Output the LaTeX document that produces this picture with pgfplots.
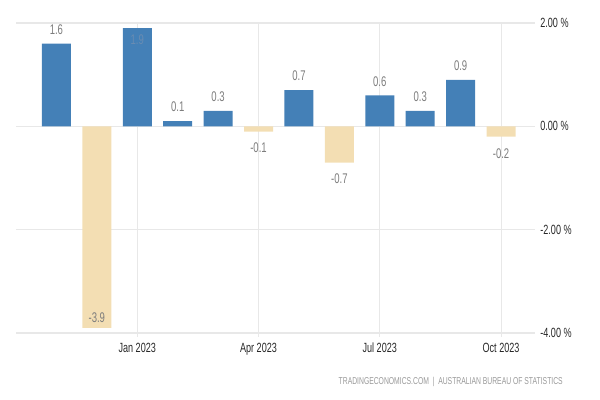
\documentclass[border=0pt]{standalone}
\usepackage{fontspec}
\setmainfont{Liberation Sans}[FakeStretch=0.68]
\usepackage{pgfplots}
\pgfplotsset{compat=1.18}
\definecolor{barblue}{RGB}{68,128,183}
\definecolor{bartan}{RGB}{243,222,179}
\definecolor{lbl}{RGB}{125,125,125}
\definecolor{tickc}{RGB}{40,40,40}
\definecolor{gridc}{RGB}{232,232,232}
\begin{document}
\begin{tikzpicture}
\path[use as bounding box] (0,0) rectangle (450pt,300pt);
\begin{axis}[
  at={(12pt,50.25pt)}, anchor=south west, scale only axis,
  width=389.25pt, height=232.5pt,
  xmin=-1, xmax=11.84, ymin=-4, ymax=2,
  axis x line*=bottom, axis y line*=right, axis line style={draw=none},
  xtick={2,5,8,11}, xticklabels={Jan 2023,Apr 2023,Jul 2023,Oct 2023},
  ytick={-4,-2,0,2}, yticklabels={-4.00 \%,-2.00 \%,0.00 \%,2.00 \%},
  xmajorgrids, ymajorgrids, grid style={draw=gridc, line width=0.8pt},
  tick align=outside, major tick length=3pt,
  xtick style={draw=gridc, line width=0.8pt}, ytick style={draw=none},
  ticklabel style={font=\fontsize{10}{12}\selectfont, text=tickc},
  xticklabel style={yshift=-1pt},
  yticklabel style={anchor=west, xshift=-2.5pt},
  clip=false,
]
% positive bars
\addplot[ybar, bar width=21.75pt, bar shift=0pt, fill=barblue, draw=none]
  coordinates {(0,1.6) (2,1.9) (3,0.1) (4,0.3) (6,0.7) (8,0.6) (9,0.3) (10,0.9)};
% negative bars
\addplot[ybar, bar width=21.75pt, bar shift=0pt, fill=bartan, draw=none]
  coordinates {(1,-3.9) (5,-0.1) (7,-0.7) (11,-0.2)};
% labels above positive bars
\addplot[draw=none, mark=none, nodes near coords, point meta=explicit symbolic,
  nodes near coords style={anchor=center, yshift=10.5pt, text=lbl, font=\fontsize{10.5}{12}\selectfont}]
  coordinates {(0,1.6) [1.6] (3,0.1) [0.1] (4,0.3) [0.3] (6,0.7) [0.7] (8,0.6) [0.6] (9,0.3) [0.3] (10,0.9) [0.9]};
% labels below negative bars
\addplot[draw=none, mark=none, nodes near coords, point meta=explicit symbolic,
  nodes near coords style={anchor=center, yshift=-12.5pt, text=lbl, font=\fontsize{10.5}{12}\selectfont}]
  coordinates {(5,-0.1) [-0.1] (7,-0.7) [-0.7] (11,-0.2) [-0.2]};
% label inside top of tall positive bar
\addplot[draw=none, mark=none, nodes near coords, point meta=explicit symbolic,
  nodes near coords style={anchor=center, yshift=-9pt, text={rgb,255:red,105;green,140;blue,178}, font=\fontsize{10.5}{12}\selectfont}]
  coordinates {(2,1.9) [1.9]};
% label inside bottom of tall negative bar
\addplot[draw=none, mark=none, nodes near coords, point meta=explicit symbolic,
  nodes near coords style={anchor=center, yshift=7.5pt, text=lbl, font=\fontsize{10.5}{12}\selectfont}]
  coordinates {(1,-3.9) [-3.9]};
\end{axis}
\node[anchor=east, font=\fontsize{7.5}{9}\selectfont, text=gray!80, inner sep=0pt]
  at (422.25pt,13.5pt) {TRADINGECONOMICS.COM \ | \ AUSTRALIAN BUREAU OF STATISTICS};
\end{tikzpicture}
\end{document}
